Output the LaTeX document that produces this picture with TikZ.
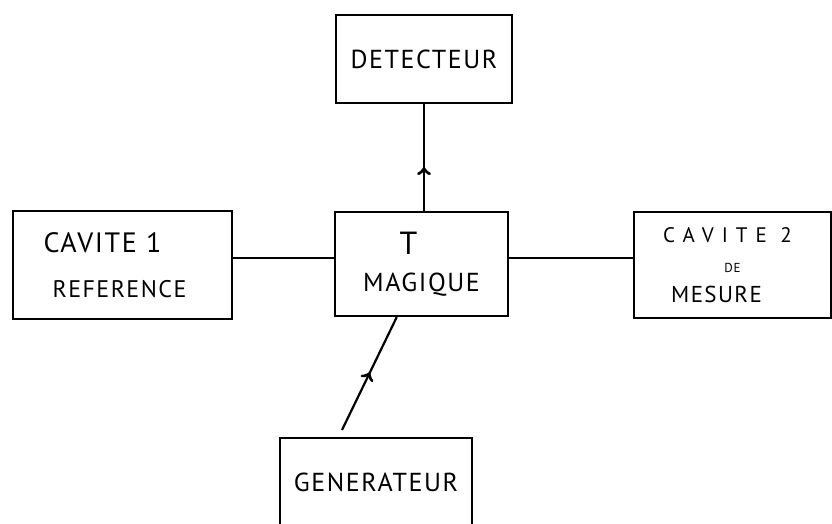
\documentclass[tikz,border=0pt]{standalone}
\usepackage{fontspec}
\newfontfamily\handfont[LetterSpace=6]{PT Sans}
\usetikzlibrary{arrows,decorations.markings}

\begin{document}
\begin{tikzpicture}[x=1pt,y=-1pt,line width=2.2pt]
        \useasboundingbox (0,0) rectangle (832,523);
        \clip (0,0) rectangle (832,523);
        \begin{scope}[every node/.style={draw,rectangle,align=center,inner sep=0pt}]
            \node [minimum width=176,minimum height=88,font=\handfont\fontsize{26}{30}\selectfont] (det) at (424,59) {DETECTEUR};
            \node [minimum width=219,minimum height=108,font=\handfont\fontsize{24}{45}\selectfont] (cav1) at (122.5,265)
                {\fontsize{28}{45}\selectfont CAVITE 1\hspace*{40pt}\\ REFERENCE\hspace*{6pt}};
            \node [minimum width=173,minimum height=104,font=\handfont\fontsize{26}{37}\selectfont] (tm) at (421.5,264)
                {\fontsize{32}{37}\selectfont T\hspace*{26pt}\\ MAGIQUE};
            \node [minimum width=197,minimum height=106,font=\handfont\fontsize{23}{30}\selectfont] (cav2) at (732.5,265)
                {\fontsize{21}{30}\selectfont\addfontfeature{LetterSpace=38}CAVITE 2\hspace*{10pt}\\ \fontsize{13}{30}\selectfont DE\hspace*{4pt}\\ MESURE\hspace*{32pt}};
            \node [minimum width=192,minimum height=88,font=\handfont\fontsize{26}{30}\selectfont] (gen) at (376,482) {GENERATEUR};
        \end{scope}
        \coordinate (genin) at (342,430);
        \draw ([yshift=7pt]cav1.east) -- ([yshift=7pt]cav1.east -| tm.west);
        \draw ([yshift=6pt]tm.east) -- ([yshift=6pt]tm.east -| cav2.west);
        \draw[decoration={markings, mark=at position 0.41 with {\arrow[scale=1.5]{>}}}, postaction={decorate}] (tm.north -| det.south) -- (det.south);
        \draw[decoration={markings, mark=at position 0.51 with {\arrow[scale=1.5]{>}}}, postaction={decorate}] (genin) -- (tm.-115);
    \end{tikzpicture}
\end{document}
